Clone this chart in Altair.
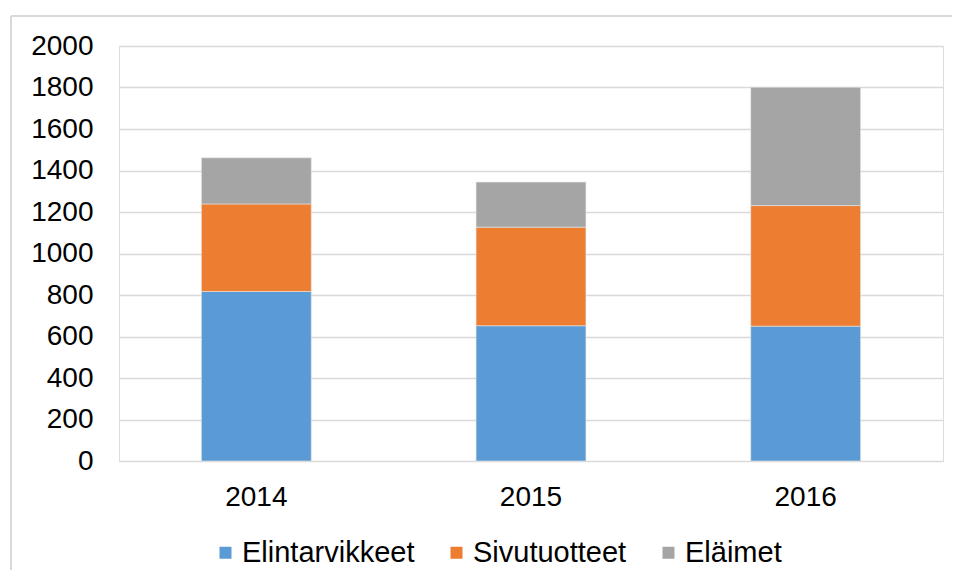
import altair as alt
import pandas as pd

years = ["2014", "2015", "2016"]
series = ["Elintarvikkeet", "Sivutuotteet", "Eläimet"]
elintarvikkeet = [817, 652, 650]
sivutuotteet = [422, 475, 581]
elaimet = [222, 217, 570]
colors = ["#5B9BD5", "#ED7D31", "#A5A5A5"]

rows = []
for i, y in enumerate(years):
    for k, (name, vals) in enumerate(zip(series, [elintarvikkeet, sivutuotteet, elaimet])):
        rows.append({"year": y, "series": name, "value": vals[i], "ord": k})
df = pd.DataFrame(rows)

FONT = "Liberation Sans"

bars = alt.Chart(df).mark_bar(stroke="#e6e6e6", strokeWidth=0.6).encode(
    x=alt.X("year:N", title=None,
            scale=alt.Scale(paddingInner=0.6, paddingOuter=0.3),
            axis=alt.Axis(labelAngle=0, ticks=False, domain=False, labelPadding=22,
                          labelFontSize=28, labelFont=FONT, labelColor="#000000")),
    y=alt.Y("value:Q", title=None, stack="zero",
            scale=alt.Scale(domain=[0, 2000], nice=False),
            axis=alt.Axis(values=list(range(0, 2001, 200)), format="d", ticks=False,
                          domain=False, labelPadding=26, labelFontSize=28, labelFont=FONT,
                          labelColor="#000000", gridColor="#d9d9d9", gridWidth=1.5)),
    color=alt.Color("series:N", sort=series,
                    scale=alt.Scale(domain=series, range=colors),
                    legend=alt.Legend(title=None, orient="none", direction="horizontal",
                                      legendX=92, legendY=492, symbolType="square",
                                      symbolSize=144, symbolStrokeWidth=0,
                                      labelFontSize=29, labelFont=FONT, labelLimit=0,
                                      labelColor="#000000", labelOffset=2,
                                      columnPadding=27)),
    order=alt.Order("ord:Q", sort="ascending"),
)

frame_df = pd.DataFrame({"k": [0]})
left_border = alt.Chart(frame_df).mark_rule(color="#d9d9d9", strokeWidth=2, clip=False).encode(
    x=alt.value(-108), y=alt.value(-30), y2=alt.value(600)
)
top_border = alt.Chart(frame_df).mark_rule(color="#d9d9d9", strokeWidth=2, clip=False).encode(
    x=alt.value(-108), x2=alt.value(860), y=alt.value(-30), y2=alt.value(-30)
)

chart = alt.layer(bars, left_border, top_border).properties(
    width=824, height=415,
    autosize=alt.AutoSizeParams(type="none"),
    padding={"left": 111, "top": 38, "right": 9, "bottom": 109},
).configure_view(stroke="transparent").configure(background="white")

chart.save("out.html", embed_options={"renderer": "svg", "actions": False})
